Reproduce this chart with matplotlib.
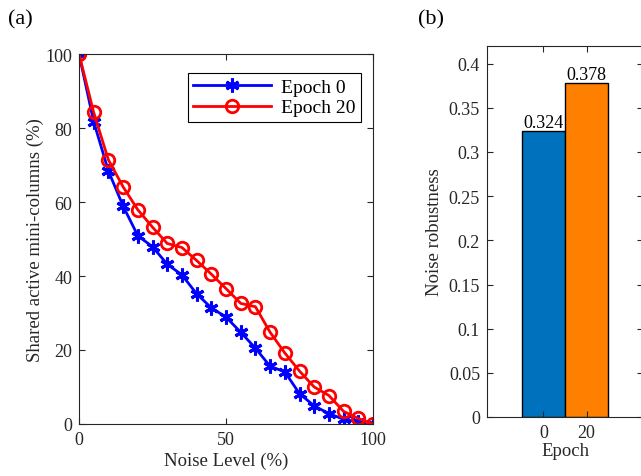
import matplotlib.pyplot as plt

plt.rcParams['font.family'] = ['Liberation Serif', 'DejaVu Serif']
plt.rcParams['mathtext.fontset'] = 'stix'

# dane - panel (a)
poziom_szumu = [0, 5, 10, 15, 20, 25, 30, 35, 40, 45, 50, 55, 60, 65, 70, 75, 80, 85, 90, 95, 100]
epoka_0 = [100, 81.7, 68.4, 58.9, 50.9, 47.9, 43.2, 40.3, 35.2, 31.4, 28.9,
           24.8, 20.5, 15.6, 14.1, 8.2, 4.9, 2.8, 1.3, 0.5, 0]
epoka_20 = [100, 84.2, 71.4, 64.1, 57.9, 53.2, 48.8, 47.7, 44.2, 40.5, 36.6,
            32.6, 31.7, 24.8, 19.2, 14.3, 10.0, 7.7, 3.4, 1.5, 0]

# dane - panel (b)
epoki = ['0', '20']
odpornosc = [0.324, 0.378]
kolory_slupkow = ['#0072BD', '#FF8000']

fig = plt.figure(figsize=(6.41, 4.77), dpi=100)
W, H = 641, 477

# panel (a)
ax1 = fig.add_axes([79 / W, 1 - 425 / H, (373 - 79) / W, (425 - 55) / H])
ax1.plot(poziom_szumu, epoka_0, color='blue', lw=2, marker=(6, 2, 0), ms=10, mew=2.2, label='Epoch 0')
ax1.plot(poziom_szumu, epoka_20, color='red', lw=2, marker='o', ms=9, mfc='none', mew=2, label='Epoch 20')
ax1.set_xlim(0, 100)
ax1.set_ylim(0, 100)
ax1.set_xticks([0, 50, 100])
ax1.set_yticks([0, 20, 40, 60, 80, 100])
ax1.set_xlabel('Noise Level (%)', fontsize=13.5, labelpad=3)
ax1.set_ylabel('Shared active mini-columns (%)', fontsize=13.5, labelpad=1)
leg = ax1.legend(loc='upper right', bbox_to_anchor=(0.96, 0.95), fontsize=14, fancybox=False,
                 edgecolor='black', framealpha=1, borderaxespad=0, handlelength=4,
                 borderpad=0.3, labelspacing=0.15, handletextpad=0.5)
leg.get_frame().set_linewidth(0.8)

# panel (b)
ax2 = fig.add_axes([487 / W, 1 - 418 / H, (643 - 487) / W, (418 - 47) / H])
pozycje = [1, 2]
slupki = ax2.bar(pozycje, odpornosc, width=1.0, color=kolory_slupkow, edgecolor='black', lw=1)
for s, v in zip(slupki, odpornosc):
    ax2.text(s.get_x() + s.get_width() / 2, v, f'{v:.3f}', ha='center', va='bottom', fontsize=13)
ax2.set_xlim(-0.3, 3.3)
ax2.set_ylim(0, 0.42)
ax2.set_xticks(pozycje)
ax2.set_xticklabels(epoki)
ax2.set_yticks([0, 0.05, 0.1, 0.15, 0.2, 0.25, 0.3, 0.35, 0.4])
ax2.set_yticklabels(['0', '0.05', '0.1', '0.15', '0.2', '0.25', '0.3', '0.35', '0.4'])
ax2.set_xlabel('Epoch', fontsize=13.5, labelpad=1)
ax2.set_ylabel('Noise robustness', fontsize=13.5, labelpad=4)

for ax in (ax1, ax2):
    ax.tick_params(direction='in', top=True, right=True, labelsize=13, length=4, width=0.8,
                   colors='#262626', labelcolor='#262626', pad=5)
    for sp in ax.spines.values():
        sp.set_color('#262626')
        sp.set_linewidth(0.8)
    ax.xaxis.label.set_color('#262626')
    ax.yaxis.label.set_color('#262626')

fig.text(8 / W, 1 - 20 / H, '(a)', fontsize=16, va='center', ha='left')
fig.text(418 / W, 1 - 20 / H, '(b)', fontsize=16, va='center', ha='left')

fig.savefig('out.png', dpi=100)
